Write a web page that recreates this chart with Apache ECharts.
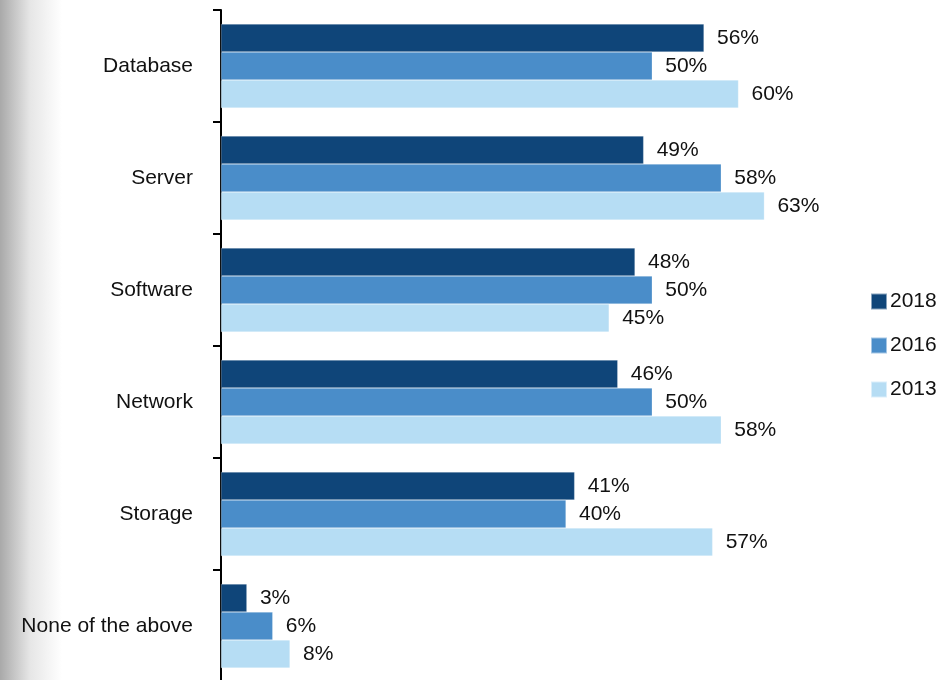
<!DOCTYPE html>
<html><head><meta charset="utf-8">
<script src="https://cdn.jsdelivr.net/npm/echarts@6/dist/echarts.min.js"></script>
<style>
html,body{margin:0;padding:0;background:#fff;}
#wrap{position:relative;width:951px;height:680px;background:linear-gradient(to right,#a9a9a9 0px,#e6e6e6 30px,#ffffff 62px,#ffffff 100%);}
#c{position:absolute;left:0;top:0;width:951px;height:680px;}
</style></head>
<body><div id="wrap"><div id="c"></div></div>
<script>
const categories = ['Database','Server','Software','Network','Storage','None of the above'];
const seriesNames = ['2018','2016','2013'];
const v2018 = [56,49,48,46,41,3];
const v2016 = [50,58,50,50,40,6];
const v2013 = [60,63,45,58,57,8];
const colors = ['#0f4579','#4a8dc9','#b6ddf4'];
const FONT = '"Liberation Sans",Arial,sans-serif';
const chart = echarts.init(document.getElementById('c'));
const values = [v2018, v2016, v2013];
chart.setOption({
  backgroundColor: 'transparent',
  animation: false,
  textStyle: {fontFamily: FONT},
  grid: {left: 221, top: 10, width: 690, height: 672, containLabel: false, outerBoundsMode: 'none'},
  xAxis: {type: 'value', min: 0, max: 80, show: false},
  yAxis: {
    type: 'category', data: categories, inverse: true,
    axisLine: {show: true, lineStyle: {color: '#000', width: 2}},
    axisTick: {show: true, length: 8, lineStyle: {color: '#000', width: 2}},
    axisLabel: {fontSize: 21, color: '#111', margin: 28, fontFamily: FONT}
  },
  legend: {
    orient: 'vertical', left: 865, top: 286, itemWidth: 16, itemHeight: 16, itemGap: 23,
    icon: 'rect', data: seriesNames,
    textStyle: {fontSize: 21, color: '#111', fontFamily: FONT, padding: [0,0,0,-2]}
  },
  series: seriesNames.map((n, i) => ({
    name: n, type: 'bar', data: values[i], barGap: '0%', barCategoryGap: '25%',
    itemStyle: {color: colors[i], borderColor: 'rgba(255,255,255,0.5)', borderWidth: 0.5},
    label: {show: true, position: 'right', distance: 13, formatter: '{c}%', fontSize: 21, color: '#111', fontFamily: FONT}
  }))
});
</script></body></html>
